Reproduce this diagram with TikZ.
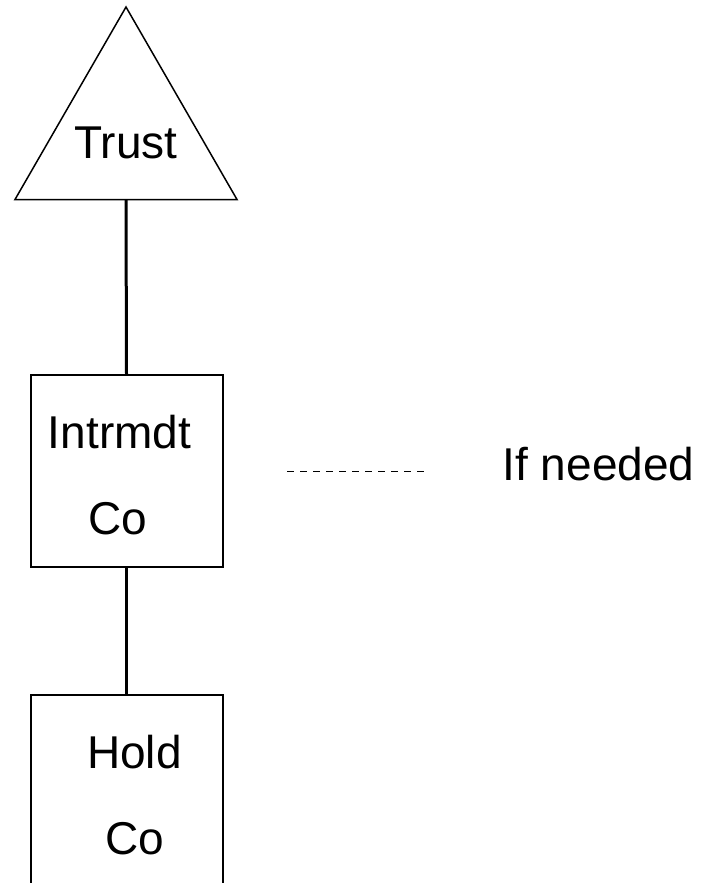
\documentclass[tikz,border=0pt]{standalone}
\usepackage{fontspec}
\setmainfont{Liberation Sans}
\begin{document}
\begin{tikzpicture}[x=1pt,y=1pt,
  box/.style={draw, line width=2pt, minimum width=192pt, inner sep=0pt},
  lbl/.style={anchor=base, inner sep=0pt, font=\fontsize{46}{55}\selectfont},
  conn/.style={line width=3pt}]
\useasboundingbox (0,0) rectangle (702,-883);
\clip (0,0) rectangle (702,-883);
% triangle
\coordinate (tl) at (15,-199.5);
\coordinate (tr) at (237,-199.5);
\coordinate (ta) at (126,-7);
\coordinate (tb) at (126,-199.5);
\draw[line width=1.5pt, line join=miter] (tl) -- (ta) -- (tr) -- cycle;
\node[lbl] (trust) at (126,-158) {Trust};
% boxes
\node[box, minimum height=192pt] (im) at (126.5,-471) {};
\node[box, minimum height=260pt] (hc) at (126.5,-825) {};
\node[lbl] (t1) at (119.5,-448) {Intrmdt};
\node[lbl] (t2) at (118,-534) {Co};
\node[lbl] (t3) at (134.5,-768) {Hold};
\node[lbl] (t4) at (134.5,-854) {Co};
% connectors
\draw[conn] (tb) -- (im.north);
\draw[conn] (im.south) -- (hc.north);
% dashed legend
\coordinate (d1) at (287,-471);
\coordinate (d2) at (430,-471);
\draw[line width=1pt, dash pattern=on 7pt off 6pt] (d1) -- (d2);
\node[lbl] (ifn) at (598.5,-480) {If needed};
\end{tikzpicture}
\end{document}
